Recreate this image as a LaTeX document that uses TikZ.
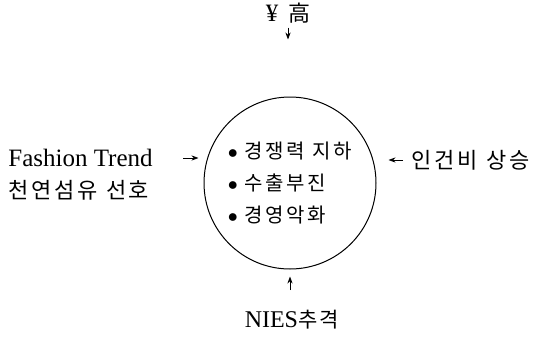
\documentclass[tikz,border=0pt]{standalone}
\usepackage{fontspec}
\setmainfont{Liberation Serif}
\newfontfamily\kr[LetterSpace=12]{Noto Sans CJK KR}
\usetikzlibrary{arrows.meta}
\begin{document}
\begin{tikzpicture}[x=0.5pt, y=-0.5pt, >={Stealth[length=3.5pt,width=2.6pt]},
    every node/.style={inner sep=1pt},
    factor/.style={font=\fontsize{12.5}{16}\selectfont},
    push/.style={->, line width=0.45pt}]
  \useasboundingbox (0,0) rectangle (535,337);

  % 1. 원 (중심)
  \node[circle, draw, line width=0.5pt, minimum size=86pt, inner sep=0pt,
        align=left, font=\kr\fontsize{10}{16}\selectfont] (core) at (290,183)
       {$\bullet$ 경쟁력\hspace{0.4em}지하\\ $\bullet$ 수출부진\\ $\bullet$ 경영악화};

  % 2. 요인
  \node[factor] (yen) at (288,13) {¥\hspace{0.4em}{\kr\fontsize{11}{16}\selectfont 高}};
  \node[factor, anchor=west] (fashion) at (6,158) {Fashion Trend};
  \node[factor, anchor=west, font=\kr\fontsize{11}{16}\selectfont] (natural) at (6,190) {천연섬유\hspace{0.4em}선호};
  \node[factor, anchor=west, font=\kr\fontsize{11}{16}\selectfont] (labor) at (409,160) {인건비\hspace{0.4em}상승};
  \node[factor, font=\fontsize{12}{16}\selectfont] (nies) at (292,320) {NIES{\kr\fontsize{10.5}{16}\selectfont 추격}};

  % 3. 화살표
  \draw[push, shorten <=1pt, shorten >=28.5pt] (yen.south) -- (yen.south |- core.north);
  \draw[push, shorten <=14pt, shorten >=2.5pt] (fashion.east) -- (fashion.east -| core.west);
  \draw[push, shorten <=3pt, shorten >=6pt] (labor.west) -- (labor.west -| core.east);
  \draw[push, shorten <=9pt, shorten >=3.5pt] (core.south |- nies.north) -- (core.south);
\end{tikzpicture}
\end{document}
